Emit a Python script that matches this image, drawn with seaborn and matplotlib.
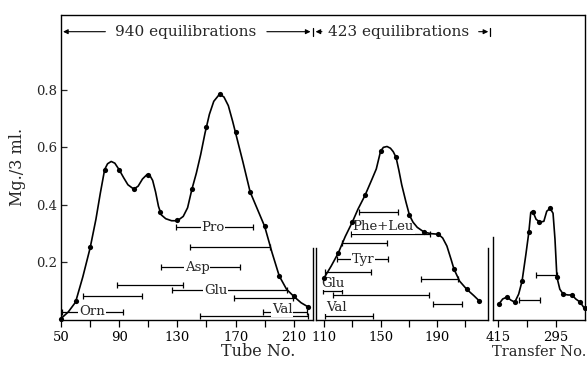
import numpy as np
import pandas as pd
import matplotlib
matplotlib.use("Agg")
import matplotlib.pyplot as plt
import seaborn as sns
from matplotlib.lines import Line2D

sns.set_theme(style="ticks")
plt.rcParams["font.family"] = ["DejaVu Serif", "DejaVu Sans"]

# ---------------- data ----------------
# Panel 1: Tube No. 50-220 (940 equilibrations)
p1_dot_tube = [50, 60, 70, 80, 90, 100, 110, 118, 130, 140, 150, 159, 170, 180, 190, 200, 210, 220]
p1_dot_val = [0.005, 0.065, 0.253, 0.523, 0.523, 0.455, 0.505, 0.374, 0.347, 0.455, 0.672, 0.785,
              0.652, 0.444, 0.326, 0.153, 0.083, 0.045]
p1_curve_tube = [50, 55, 60, 65, 70, 74, 77, 80, 82, 84.5, 87, 90, 93, 96, 100, 103, 106, 109, 111,
                 113, 115, 117, 119, 122, 126, 130, 134, 137, 140, 143, 146, 149, 152, 155, 159, 162,
                 165, 168, 171, 175, 180, 185, 190, 195, 200, 205, 210, 215, 220]
p1_curve_val = [0.005, 0.028, 0.062, 0.15, 0.25, 0.35, 0.44, 0.523, 0.543, 0.551, 0.545, 0.522,
                0.495, 0.47, 0.455, 0.465, 0.49, 0.505, 0.503, 0.485, 0.445, 0.395, 0.365, 0.352,
                0.345, 0.345, 0.36, 0.39, 0.455, 0.51, 0.575, 0.65, 0.715, 0.76, 0.785, 0.775, 0.745,
                0.69, 0.63, 0.55, 0.445, 0.385, 0.325, 0.235, 0.153, 0.107, 0.082, 0.06, 0.045]

# Panel 2: Tube No. 110-220 (423 equilibrations)
p2_dot_tube = [110, 120, 130, 139, 150, 161, 170.5, 181, 191, 202, 211, 220]
p2_dot_val = [0.146, 0.232, 0.34, 0.433, 0.586, 0.565, 0.364, 0.305, 0.298, 0.177, 0.107, 0.066]
p2_curve_tube = [110, 115, 120, 125, 130, 134, 139, 144, 147, 150, 152, 154.6, 157, 159, 161, 163,
                 165, 168, 170.5, 173, 176, 181, 186, 191, 194, 197, 200, 202, 206, 211, 216, 220]
p2_curve_val = [0.146, 0.187, 0.232, 0.29, 0.34, 0.385, 0.433, 0.49, 0.525, 0.586, 0.6, 0.603, 0.597,
                0.585, 0.565, 0.52, 0.47, 0.41, 0.364, 0.34, 0.322, 0.305, 0.3, 0.298, 0.285, 0.257,
                0.21, 0.177, 0.135, 0.107, 0.085, 0.066]

# Panel 3: Transfer No.
p3_dot_tr = [413, 396, 380, 365, 351, 343, 330, 307, 293, 280, 262, 245, 236]
p3_dot_val = [0.055, 0.08, 0.062, 0.135, 0.305, 0.376, 0.342, 0.388, 0.149, 0.09, 0.087, 0.062, 0.04]
p3_curve_tr = [413, 405, 396, 388, 380, 372, 365, 357, 351, 347, 343, 336, 328, 320, 314, 307, 301,
               297, 293, 287, 280, 270, 262, 254, 245, 236]
p3_curve_val = [0.055, 0.073, 0.08, 0.069, 0.062, 0.09, 0.135, 0.229, 0.305, 0.374, 0.378, 0.35, 0.34,
                0.343, 0.378, 0.388, 0.371, 0.281, 0.149, 0.107, 0.09, 0.087, 0.087, 0.073, 0.062, 0.04]

# Horizontal range bars (start, end, level)
p1_bar_start = [129, 139, 118.7, 88.5, 126.3, 65, 169, 50.7, 189, 145.5]
p1_bar_end = [182, 193.6, 173, 134, 205, 105.7, 209.5, 92.6, 219, 220]
p1_bar_y = [0.322, 0.253, 0.184, 0.121, 0.104, 0.083, 0.076, 0.028, 0.028, 0.014]
p1_lab_text = ["Pro", "Asp", "Glu", "Orn", "Val"]
p1_lab_x = [154.5, 143.5, 156.5, 71.3, 202]
p1_lab_y = [0.322, 0.184, 0.104, 0.028, 0.036]

p2_bar_start = [134.8, 129, 122.7, 119, 110.7, 178.7, 109.5, 116, 187, 110.7]
p2_bar_end = [162.4, 185, 154.6, 155, 143, 205, 122.7, 184, 207.7, 145]
p2_bar_y = [0.374, 0.298, 0.267, 0.211, 0.166, 0.142, 0.10, 0.087, 0.055, 0.014]
p2_lab_text = ["Phe+Leu", "Tyr", "Glu", "Val"]
p2_lab_x = [151.8, 137.6, 116.5, 118.5]
p2_lab_y = [0.324, 0.211, 0.128, 0.045]

p3_bar_start = [336, 372]
p3_bar_end = [293, 328]
p3_bar_y = [0.156, 0.069]

p1_ticks = [50, 70, 90, 110, 130, 150, 170, 190, 210]
p1_ticklabels = ["50", "", "90", "", "130", "", "170", "", "210"]
p2_ticks = [110, 130, 150, 170, 190, 210]
p2_ticklabels = ["110", "", "150", "", "190", ""]
p3_ticks = [415, 355, 295]
p3_ticklabels = ["415", "", "295"]
y_ticks = [0.2, 0.4, 0.6, 0.8]
y_ticklabels = ["0.2", "0.4", "0.6", "0.8"]

# ---------------- figure ----------------
W, H = 587, 368
fig = plt.figure(figsize=(W / 100, H / 100), dpi=100)
fig.patch.set_facecolor("white")


def rect(x0, x1, y0=15, y1=320):
    return [x0 / W, 1 - y1 / H, (x1 - x0) / W, (y1 - y0) / H]


ax1 = fig.add_axes(rect(61, 313))
ax2 = fig.add_axes(rect(316, 488))
ax3 = fig.add_axes(rect(493, 585))

FS = 9.5
LW = 1.2


def draw_panel(ax, ctx, cty, dtx, dty, bs, be, by):
    sns.lineplot(x=ctx, y=cty, ax=ax, color="black", lw=LW, sort=False, estimator=None,
                 zorder=5)
    sns.scatterplot(x=dtx, y=dty, ax=ax, color="black", s=14, edgecolor="black",
                    linewidth=0, zorder=6, clip_on=False)
    bars = pd.DataFrame({"s": bs, "e": be, "y": by})
    c = (bars["s"] + bars["e"]) / 2
    hw = (bars["e"] - bars["s"]).abs() / 2
    ax.errorbar(c, bars["y"], xerr=hw, fmt="none", ecolor="black", elinewidth=0.9,
                capsize=2.2, capthick=0.9, zorder=3)


draw_panel(ax1, p1_curve_tube, p1_curve_val, p1_dot_tube, p1_dot_val,
           p1_bar_start, p1_bar_end, p1_bar_y)
draw_panel(ax2, p2_curve_tube, p2_curve_val, p2_dot_tube, p2_dot_val,
           p2_bar_start, p2_bar_end, p2_bar_y)
draw_panel(ax3, p3_curve_tr, p3_curve_val, p3_dot_tr, p3_dot_val,
           p3_bar_start, p3_bar_end, p3_bar_y)

lab_box = dict(facecolor="white", edgecolor="none", pad=0.6)
for t, x, y in zip(p1_lab_text, p1_lab_x, p1_lab_y):
    ax1.text(x, y, t, ha="center", va="center", fontsize=FS, bbox=lab_box, zorder=4)
for t, x, y in zip(p2_lab_text, p2_lab_x, p2_lab_y):
    ax2.text(x, y, t, ha="center", va="center", fontsize=FS, bbox=lab_box, zorder=4)

for ax in (ax1, ax2, ax3):
    ax.set_ylim(0, 1.06)
    ax.set_facecolor("white")
    ax.set_xlabel("")
    ax.set_ylabel("")
    ax.spines["top"].set_visible(False)
    for s in ax.spines.values():
        s.set_linewidth(1.0)
        s.set_color("black")
    ax.tick_params(axis="x", direction="out", length=5, width=0.9, labelsize=FS, pad=3,
                   colors="black")

ax1.set_xlim(50, 223.2)
ax2.set_xlim(104.3, 226.1)
ax3.set_xlim(425, 235)

ax1.set_xticks(p1_ticks, p1_ticklabels)
ax2.set_xticks(p2_ticks, p2_ticklabels)
ax3.set_xticks(p3_ticks, p3_ticklabels)

ax1.set_yticks(y_ticks, y_ticklabels)
ax1.tick_params(axis="y", direction="in", length=4, width=0.9, labelsize=FS, pad=3)
for ax in (ax2, ax3):
    ax.set_yticks([])
    ax.tick_params(axis="y", left=False, labelleft=False)

# short separators between panels
ax1.spines["right"].set_bounds(0, 0.25)
ax2.spines["left"].set_bounds(0, 0.25)
ax2.spines["right"].set_bounds(0, 0.25)
ax3.spines["left"].set_bounds(0, 0.29)

# continuous top frame line
fig.add_artist(Line2D([61 / W, 585 / W], [1 - 15 / H, 1 - 15 / H], color="black", lw=1.0))

# header annotations
hy = 1.002
HFS = 11
arrow = dict(arrowstyle="-|>", color="black", lw=0.8, mutation_scale=7, shrinkA=0, shrinkB=0)
ax1.annotate("", xy=(51.4, hy), xytext=(80.5, hy), arrowprops=arrow, annotation_clip=False)
ax1.text(135.9, hy, "940 equilibrations", ha="center", va="center", fontsize=HFS)
ax1.annotate("", xy=(221.5, hy), xytext=(191.5, hy), arrowprops=arrow, annotation_clip=False)
ax1.plot([223.2, 223.2], [hy - 0.014, hy + 0.014], color="black", lw=0.9, clip_on=False)

ax2.annotate("", xy=(104.0, hy), xytext=(108.5, hy), arrowprops=arrow, annotation_clip=False)
ax2.text(163.0, hy, "423 equilibrations", ha="center", va="center", fontsize=HFS)
ax2.annotate("", xy=(226.3, hy), xytext=(219.5, hy), arrowprops=arrow, annotation_clip=False)
ax2.plot([227.6, 227.6], [hy - 0.014, hy + 0.014], color="black", lw=0.9, clip_on=False)

fig.text(258 / W, 1 - 352 / H, "Tube No.", ha="center", va="center", fontsize=11.5)
fig.text(539 / W, 1 - 352 / H, "Transfer No.", ha="center", va="center", fontsize=10.5)
fig.text(18 / W, 1 - 167 / H, "Mg./3 ml.", ha="center", va="center", rotation=90,
         fontsize=11.5)

fig.savefig("out.png", dpi=100, facecolor="white")
